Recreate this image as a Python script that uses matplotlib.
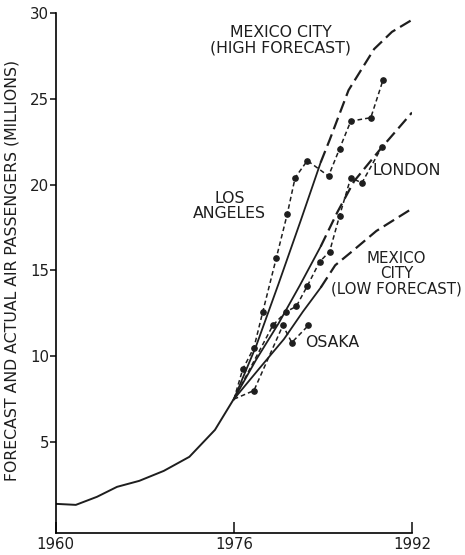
import matplotlib
matplotlib.use('Agg')
import matplotlib.pyplot as plt

# air passenger history up to 1976 (millions)
hist_years = [1960, 1961.8, 1963.7, 1965.5, 1967.5, 1969.7, 1972.0, 1974.3, 1976]
hist_vals = [1.40, 1.34, 1.81, 2.39, 2.74, 3.32, 4.14, 5.71, 7.52]

# forecasts from 1976: solid up to firm_until, dashed after
firm_until = 1983.8
mex_high_years = [1976, 1978.0, 1980.0, 1982.0, 1983.8, 1984.6, 1986.3, 1988.6, 1990.2, 1992]
mex_high_vals = [7.5, 10.6, 14.2, 17.9, 21.3, 22.6, 25.5, 27.9, 28.9, 29.6]
london_fc_years = [1976, 1978.0, 1980.0, 1981.9, 1983.8, 1985.3, 1986.8, 1989.2, 1992]
london_fc_vals = [7.5, 9.8, 11.9, 14.1, 16.4, 18.4, 20.2, 22.1, 24.2]
mex_low_years = [1976, 1978.3, 1980.5, 1982.2, 1983.8, 1985.1, 1986.6, 1988.8, 1992]
mex_low_vals = [7.5, 9.3, 11.0, 12.6, 14.0, 15.3, 16.1, 17.3, 18.6]

# actual traffic of other airports, shifted to start at the same level
la_years = [1976, 1976.8, 1977.8, 1978.6, 1979.8, 1980.8, 1981.5, 1982.6, 1984.5, 1985.5, 1986.5, 1988.3, 1989.4]
la_vals = [7.5, 9.25, 10.5, 12.6, 15.7, 18.3, 20.4, 21.4, 20.5, 22.1, 23.7, 23.9, 26.1]
london_years = [1976, 1979.5, 1980.7, 1981.6, 1982.6, 1983.7, 1984.6, 1985.5, 1986.5, 1987.5, 1989.3]
london_vals = [7.5, 11.8, 12.6, 12.9, 14.1, 15.5, 16.1, 18.2, 20.4, 20.1, 22.2]
osaka_years = [1976, 1977.8, 1980.4, 1981.2, 1982.7]
osaka_vals = [7.5, 8.0, 11.8, 10.8, 11.8]

xticks = [1960, 1976, 1992]
yticks = [5, 10, 15, 20, 25, 30]

ink = '#1e1e1e'
plt.rcParams['font.family'] = ['DejaVu Sans']

fig = plt.figure(figsize=(4.65, 5.55), dpi=100)
ax = fig.add_axes([0.120, 0.0396, 0.766, 0.937])

ax.plot(hist_years, hist_vals, color=ink, lw=1.4, solid_capstyle='round')

# each forecast: firm part solid, extension long-dashed
for yrs, vals in [(mex_high_years, mex_high_vals),
                  (london_fc_years, london_fc_vals),
                  (mex_low_years, mex_low_vals)]:
    firm = [(x, v) for x, v in zip(yrs, vals) if x <= firm_until]
    ext = [(x, v) for x, v in zip(yrs, vals) if x >= firm_until]
    ax.plot([p[0] for p in firm], [p[1] for p in firm], color=ink, lw=1.3)
    ax.plot([p[0] for p in ext], [p[1] for p in ext], color=ink, lw=1.6,
            linestyle=(0, (5.5, 2.5)))

# actuals: short dashes with dots
for yrs, vals in [(la_years, la_vals), (london_years, london_vals), (osaka_years, osaka_vals)]:
    ax.plot(yrs, vals, color=ink, lw=1.1, linestyle=(0, (3, 2)),
            marker='o', markersize=3.8, markevery=slice(1, None))

txt = dict(color=ink, fontsize=11.3, ha='center', va='center', multialignment='center',
           linespacing=1.05)
ax.text(1980.2, 28.4, 'MEXICO CITY\n(HIGH FORECAST)', **txt)
ax.text(1975.6, 18.75, 'LOS\nANGELES', **txt)
ax.text(1991.5, 20.8, 'LONDON', **txt)
ax.text(1990.6, 14.8, 'MEXICO\nCITY\n(LOW FORECAST)', **dict(txt, fontsize=10.8))
ax.text(1984.8, 10.8, 'OSAKA', **txt)

ax.set_xlim(1960, 1992)
ax.set_ylim(-0.3, 30)
ax.spines['top'].set_visible(False)
ax.spines['right'].set_visible(False)
ax.spines['left'].set_linewidth(1.2)
ax.spines['bottom'].set_linewidth(1.2)

ax.set_xticks(xticks)
ax.set_xticklabels([str(t) for t in xticks])
ax.set_yticks(yticks)
ax.set_yticklabels([str(t) for t in yticks])
ax.tick_params(axis='x', direction='in', length=8, width=1.2, labelsize=10.8, pad=3, colors=ink)
ax.tick_params(axis='y', direction='out', length=4, width=1.2, labelsize=10.8, pad=1, colors=ink)

ax.set_ylabel('FORECAST AND ACTUAL AIR PASSENGERS (MILLIONS)', fontsize=11.3, color=ink)
ax.yaxis.set_label_coords(-0.101, 0.504)

fig.savefig('out.png', dpi=100)
